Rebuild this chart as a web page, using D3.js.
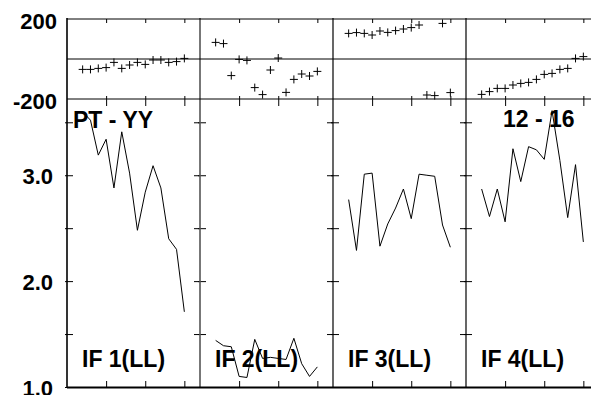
<!DOCTYPE html>
<html><head><meta charset="utf-8">
<script src="https://cdn.jsdelivr.net/npm/d3@7"></script>
<style>
body{margin:0;background:#fff}
svg{display:block}
text{font-family:"Liberation Sans",Arial,sans-serif;font-weight:bold;fill:#000}
</style>
</head><body>
<svg id="c" width="591" height="395"></svg>
<script>
// ---- data ----
const periods = [2,3,4,5,6,7,8,9,10,11,12,13,14,15];
const panelNames = ["IF 1(LL)","IF 2(LL)","IF 3(LL)","IF 4(LL)"];
const headerLeft = "PT - YY";
const headerRight = "12 - 16";

const topValues1 = [-52,-52,-47,-43,-17,-47,-30,-17,-27,-5,-5,-17,-13,3];
const topValues2 = [83,77,-83,-2,-7,-143,-178,-55,5,-167,-102,-75,-85,-62];
const topValues3 = [128,132,128,120,140,133,142,150,157,170,-180,-183,178,-168];
const topValues4 = [-177,-163,-147,-147,-130,-122,-117,-102,-77,-72,-52,-47,3,12];

const lowValues1 = [3.60,3.52,3.19,3.34,2.88,3.41,3.02,2.48,2.84,3.09,2.88,2.40,2.30,1.71];
const lowValues2 = [1.44,1.39,1.38,1.10,1.09,1.45,1.27,1.28,1.27,1.26,1.46,1.22,1.10,1.19];
const lowValues3 = [2.77,2.29,3.01,3.02,2.33,2.54,2.69,2.87,2.59,3.01,3.00,2.99,2.53,2.32];
const lowValues4 = [2.87,2.61,2.87,2.56,3.25,2.94,3.27,3.24,3.15,3.61,3.14,2.60,3.10,2.37];

const xTicks = [5,10,15];
const topTickValues = [-200,200];
const topTickLabels = ["-200","200"];
const lowTickValues = [1.0,1.5,2.0,2.5,3.0,3.5];
const lowLabelValues = [1.0,2.0,3.0];

const topSeries = [topValues1,topValues2,topValues3,topValues4];
const lowSeries = [lowValues1,lowValues2,lowValues3,lowValues4];

// ---- layout ----
const X0 = 67, PW = 133, TOP0 = 19, MID = 99, BOT = 387;
const svg = d3.select("#c");

const x = d3.scaleLinear().domain([0,17]).range([0,PW]);
const yTop = d3.scaleLinear().domain([-200,200]).range([MID,TOP0]);
const yLow = d3.scaleLinear().domain([1.0,3.72]).range([BOT,MID]);

function styleAxis(g){
  g.select(".domain").remove();
  g.selectAll(".tick line").attr("stroke","#000").attr("stroke-width",1);
}

const lineGen = d3.line().x((d,i)=>x(periods[i])).y(d=>yLow(d));

panelNames.forEach((name,p)=>{
  const g = svg.append("g").attr("transform",`translate(${X0+p*PW},0)`);
  // x ticks
  g.append("g").attr("transform",`translate(0,${TOP0})`)
    .call(d3.axisBottom(x).tickValues(xTicks).tickSize(4).tickFormat("")).call(styleAxis);
  g.append("g").attr("transform",`translate(0,${MID})`)
    .call(d3.axisTop(x).tickValues(xTicks).tickSize(3).tickFormat("")).call(styleAxis);
  g.append("g").attr("transform",`translate(0,${MID})`)
    .call(d3.axisBottom(x).tickValues(xTicks).tickSize(7).tickFormat("")).call(styleAxis);
  g.append("g").attr("transform",`translate(0,${BOT})`)
    .call(d3.axisTop(x).tickValues(xTicks).tickSize(6).tickFormat("")).call(styleAxis);
  // y ticks lower panel
  g.append("g").attr("transform",`translate(-2,0)`)
    .call(d3.axisRight(yLow).tickValues(lowTickValues).tickSize(8).tickFormat("")).call(styleAxis);
  g.append("g").attr("transform",`translate(${PW},0)`)
    .call(d3.axisLeft(yLow).tickValues(lowTickValues).tickSize(6).tickFormat("")).call(styleAxis);

  // plus markers (top)
  g.selectAll("path.pt").data(topSeries[p]).join("path")
    .attr("class","pt")
    .attr("transform",(d,i)=>`translate(${x(periods[i])},${yTop(d)})`)
    .attr("d","M-4,0H4M0,-4V4")
    .attr("stroke","#000").attr("stroke-width",1).attr("fill","none");

  // line (lower)
  g.append("path").datum(lowSeries[p]).attr("d",lineGen)
    .attr("fill","none").attr("stroke","#000").attr("stroke-width",1);
});

// frame lines
const xs = [0,1,2,3,4].map(i=>X0+i*PW);
xs.forEach((xx,i)=>{
  svg.append("line").attr("x1",xx).attr("x2",xx).attr("y1",TOP0-1).attr("y2",BOT+1)
    .attr("stroke",i===1?"#555":"#000").attr("stroke-width",i<=1?1.6:1.2);
});
[TOP0, yTop(0), MID].forEach(yy=>{
  svg.append("line").attr("x1",X0).attr("x2",X0+4*PW).attr("y1",yy).attr("y2",yy)
    .attr("stroke","#000").attr("stroke-width",1);
});
svg.append("line").attr("x1",X0).attr("x2",X0+4*PW).attr("y1",BOT+0.5).attr("y2",BOT+0.5)
  .attr("stroke","#000").attr("stroke-width",2);

// y labels
const ta = svg.append("g").attr("transform",`translate(${X0},0)`)
  .call(d3.axisLeft(yTop).tickValues(topTickValues)
    .tickFormat((d)=>topTickLabels[topTickValues.indexOf(d)]).tickSize(0).tickPadding(10));
ta.select(".domain").remove();
ta.selectAll("text").attr("font-size",22).attr("dy","9px")
  .style("font-family",'"Liberation Sans",Arial,sans-serif').style("font-weight","bold");

const la = svg.append("g").attr("transform",`translate(${X0},0)`)
  .call(d3.axisLeft(yLow).tickValues(lowLabelValues).tickFormat(d3.format(".1f")).tickSize(0).tickPadding(14));
la.select(".domain").remove();
la.selectAll("text").attr("font-size",22).attr("dy","8px")
  .style("font-family",'"Liberation Sans",Arial,sans-serif').style("font-weight","bold");

// panel labels
panelNames.forEach((name,p)=>{
  svg.append("text").attr("x",X0+p*PW+15).attr("y",367).attr("font-size",23).text(name);
});
svg.append("text").attr("x",X0+6).attr("y",128).attr("font-size",23).text(headerLeft);
svg.append("text").attr("x",X0+3*PW+37).attr("y",127).attr("font-size",23).text(headerRight);
</script>
</body></html>
